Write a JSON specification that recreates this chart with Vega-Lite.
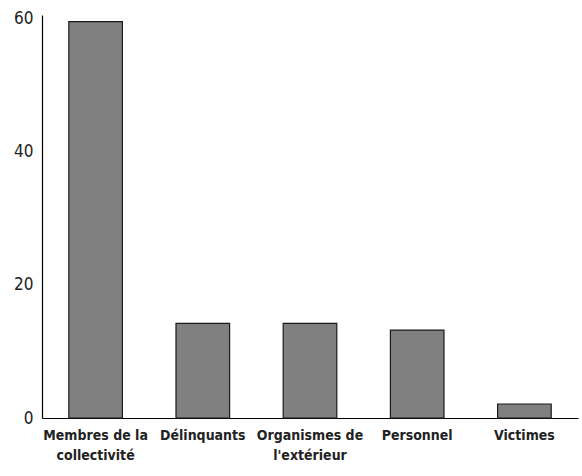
{
  "$schema": "https://vega.github.io/schema/vega-lite/v6.json",
  "autosize": {"type": "none"},
  "padding": {"left": 42, "top": 15, "right": 4, "bottom": 58},
  "width": 536,
  "height": 403,
  "background": "white",
  "data": {
    "values": [
      {"cat": "Membres de la\ncollectivité", "value": 59.5},
      {"cat": "Délinquants", "value": 14.2},
      {"cat": "Organismes de\nl'extérieur", "value": 14.2},
      {"cat": "Personnel", "value": 13.2},
      {"cat": "Victimes", "value": 2.1}
    ]
  },
  "mark": {"type": "bar", "fill": "#808080", "stroke": "#1a1a1a", "strokeWidth": 1.2},
  "encoding": {
    "x": {
      "field": "cat",
      "type": "nominal",
      "sort": null,
      "scale": {"paddingInner": 0.5, "paddingOuter": 0.25},
      "axis": {
        "title": null,
        "labelAngle": 0,
        "ticks": false,
        "labelExpr": "split(datum.label, '\\n')",
        "labelFont": "Liberation Sans Narrow, DejaVu Sans Condensed, sans-serif",
        "labelFontWeight": "bold",
        "labelFontSize": 14,
        "labelLineHeight": 20,
        "labelColor": "#222",
        "labelPadding": 10,
        "domainColor": "black",
        "domainWidth": 1.2
      }
    },
    "y": {
      "field": "value",
      "type": "quantitative",
      "scale": {"domain": [0, 60.5], "nice": false},
      "axis": {
        "title": null,
        "values": [0, 20, 40, 60],
        "grid": false,
        "ticks": false,
        "labelFont": "Liberation Sans Narrow, DejaVu Sans Condensed, sans-serif",
        "labelFontSize": 17,
        "labelColor": "#222",
        "labelPadding": 9,
        "domainColor": "black",
        "domainWidth": 1.2
      }
    }
  },
  "config": {"view": {"stroke": null}}
}
